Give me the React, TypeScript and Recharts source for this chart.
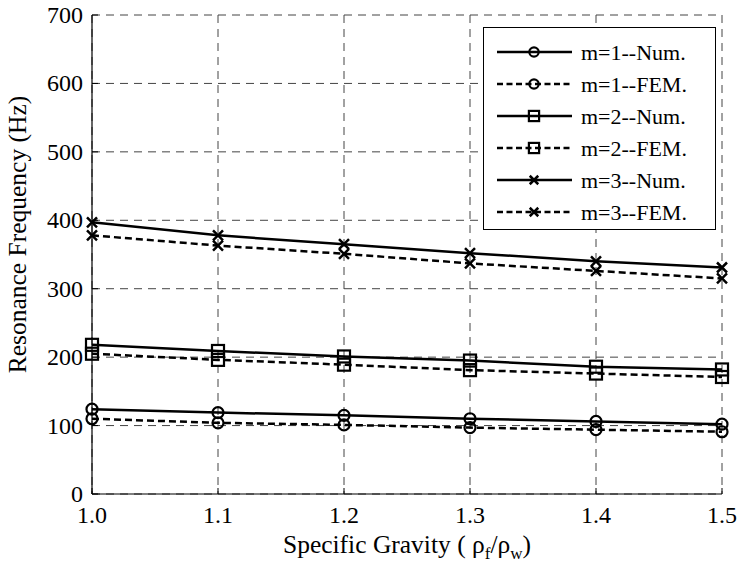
import { CartesianGrid, Legend, Line, LineChart, XAxis, YAxis } from "recharts";

// specific gravity values on the x axis
const gravity = [1.0, 1.1, 1.2, 1.3, 1.4, 1.5];

// resonance frequency (Hz) per mode, numerical model vs FEM
const m1Num = [124, 119, 115, 110, 106, 102];
const m1Fem = [110, 104, 101, 97, 94, 91];
const m2Num = [218, 209, 201, 195, 186, 182];
const m2Fem = [205, 196, 189, 181, 176, 171];
const m3Num = [397, 378, 365, 352, 340, 331];
const m3Fem = [378, 363, 351, 337, 326, 315];

const xTicks = [1.0, 1.1, 1.2, 1.3, 1.4, 1.5];
const yTicks = [0, 100, 200, 300, 400, 500, 600, 700];

const data = gravity.map((g, i) => ({
  g,
  m1Num: m1Num[i],
  m1Fem: m1Fem[i],
  m2Num: m2Num[i],
  m2Fem: m2Fem[i],
  m3Num: m3Num[i],
  m3Fem: m3Fem[i],
}));

type Shape = "circle" | "square" | "cross";

const series: { key: string; name: string; shape: Shape; dashed: boolean }[] = [
  { key: "m1Num", name: "m=1--Num.", shape: "circle", dashed: false },
  { key: "m1Fem", name: "m=1--FEM.", shape: "circle", dashed: true },
  { key: "m2Num", name: "m=2--Num.", shape: "square", dashed: false },
  { key: "m2Fem", name: "m=2--FEM.", shape: "square", dashed: true },
  { key: "m3Num", name: "m=3--Num.", shape: "cross", dashed: false },
  { key: "m3Fem", name: "m=3--FEM.", shape: "cross", dashed: true },
];

const FONT = "Liberation Serif";
const LINE_DASH = "7 4";

// keep every label in the serif face, whatever the page stylesheet says
const fontCss = `
#fig text, #fig tspan, #fig svg text.serif, #fig svg text.serif tspan {
  font-family: "Liberation Serif" !important;
}
`;

function Marker({ shape, cx, cy, small }: { shape: Shape; cx: number; cy: number; small?: boolean }) {
  const k = small ? 0.85 : 1;
  if (shape === "circle") {
    return <circle cx={cx} cy={cy} r={5.5 * k} fill="none" stroke="#000" strokeWidth={2.2} />;
  }
  if (shape === "square") {
    const h = 6 * k;
    return <rect x={cx - h} y={cy - h} width={2 * h} height={2 * h} fill="none" stroke="#000" strokeWidth={2.2} />;
  }
  const s = 5 * k;
  return (
    <path
      d={`M${cx - s},${cy - s}L${cx + s},${cy + s}M${cx - s},${cy + s}L${cx + s},${cy - s}`}
      stroke="#000"
      strokeWidth={2.5}
      fill="none"
    />
  );
}

// matlab-style ticks: short marks pointing into the plot box
const BottomTick = (props: any) => {
  const { x, y, payload } = props;
  return (
    <g>
      <line x1={x} y1={y} x2={x} y2={y - 6} stroke="#000" />
      <text className="serif" x={x} y={y + 29} textAnchor="middle" fontFamily={FONT} fontSize={24} fill="#000">
        {Number(payload.value).toFixed(1)}
      </text>
    </g>
  );
};

const LeftTick = (props: any) => {
  const { x, y, payload } = props;
  return (
    <g>
      <line x1={x} y1={y} x2={x + 6} y2={y} stroke="#000" />
      <text className="serif" x={x - 9} y={y + 8} textAnchor="end" fontFamily={FONT} fontSize={24} fill="#000">
        {payload.value}
      </text>
    </g>
  );
};

const TopTick = (props: any) => {
  const { x, y } = props;
  return <line x1={x} y1={y} x2={x} y2={y + 6} stroke="#000" />;
};

const RightTick = (props: any) => {
  const { x, y } = props;
  return <line x1={x} y1={y} x2={x - 6} y2={y} stroke="#000" />;
};

const XLabel = (props: any) => {
  const vb = props.viewBox || { x: 92, y: 494, width: 630 };
  return (
    <text
      className="serif"
      x={vb.x + vb.width / 2}
      y={vb.y + 59}
      textAnchor="middle"
      fontFamily={FONT}
      fontSize={25.5}
      fill="#000"
    >
      {"Specific Gravity ( \u03c1"}
      <tspan fontSize={17} dy={6}>f</tspan>
      <tspan dy={-6}>{"/\u03c1"}</tspan>
      <tspan fontSize={17} dy={6}>w</tspan>
      <tspan dy={-6}>)</tspan>
    </text>
  );
};

const YLabel = (props: any) => {
  const vb = props.viewBox || { x: 0, y: 15, height: 479 };
  const cx = vb.x + 18;
  const cy = vb.y + vb.height / 2 - 20;
  return (
    <text
      className="serif"
      x={cx}
      y={cy}
      dy={8}
      textAnchor="middle"
      fontFamily={FONT}
      fontSize={25.5}
      fill="#000"
      transform={`rotate(-90, ${cx}, ${cy})`}
    >
      Resonance Frequency (Hz)
    </text>
  );
};

const LegendBox = () => (
  <div
    style={{
      width: 233,
      height: 203,
      border: "1px solid #000",
      background: "#fff",
      boxSizing: "border-box",
    }}
  >
    <svg width={231} height={201} style={{ display: "block" }}>
      {series.map((s, i) => {
        const y = 24 + i * 32;
        return (
          <g key={s.key}>
            <line
              x1={13}
              y1={y}
              x2={88}
              y2={y}
              stroke="#000"
              strokeWidth={2.5}
              strokeDasharray={s.dashed ? "6 3.5" : undefined}
            />
            <Marker shape={s.shape} cx={50} cy={y} small />
            <text className="serif" x={97} y={y + 8} fontFamily={FONT} fontSize={22} fill="#000">
              {s.name}
            </text>
          </g>
        );
      })}
    </svg>
  </div>
);

export default function App() {
  return (
    <div id="fig" style={{ position: "absolute", left: 0, top: 0, background: "#fff" }}>
      <style>{fontCss}</style>
      <LineChart width={738} height={567} data={data} margin={{ top: 15, right: 16, left: 0, bottom: 0 }}>
        <CartesianGrid strokeDasharray="8 6" stroke="#444" />
        <XAxis
          dataKey="g"
          type="number"
          domain={[1.0, 1.5]}
          ticks={xTicks}
          interval={0}
          height={73}
          tickSize={0}
          tickMargin={0}
          tick={BottomTick}
          axisLine={{ stroke: "#000", strokeWidth: 1.2 }}
          label={{ content: XLabel }}
        />
        <XAxis
          xAxisId="top"
          orientation="top"
          type="number"
          domain={[1.0, 1.5]}
          ticks={xTicks}
          interval={0}
          height={0}
          tickSize={0}
          tickMargin={0}
          tick={TopTick}
          axisLine={{ stroke: "#000", strokeWidth: 1.2 }}
        />
        <YAxis
          type="number"
          domain={[0, 700]}
          ticks={yTicks}
          interval={0}
          width={92}
          tickSize={0}
          tickMargin={0}
          tick={LeftTick}
          axisLine={{ stroke: "#000", strokeWidth: 1.2 }}
          label={{ content: YLabel }}
        />
        <YAxis
          yAxisId="right"
          orientation="right"
          type="number"
          domain={[0, 700]}
          ticks={yTicks}
          interval={0}
          width={0}
          tickSize={0}
          tickMargin={0}
          tick={RightTick}
          axisLine={{ stroke: "#000", strokeWidth: 1.2 }}
        />
        {series.map((s) => (
          <Line
            key={s.key}
            dataKey={s.key}
            name={s.name}
            type="linear"
            stroke="#000"
            strokeWidth={2.5}
            strokeDasharray={s.dashed ? LINE_DASH : undefined}
            dot={(p: any) => <Marker key={`${s.key}-${p.index}`} shape={s.shape} cx={p.cx} cy={p.cy} />}
            activeDot={false}
            isAnimationActive={false}
          />
        ))}
        <Legend
          layout="vertical"
          align="center"
          verticalAlign="middle"
          content={LegendBox}
          wrapperStyle={{ left: 483, top: 27, width: 233, height: 203 }}
        />
      </LineChart>
    </div>
  );
}
